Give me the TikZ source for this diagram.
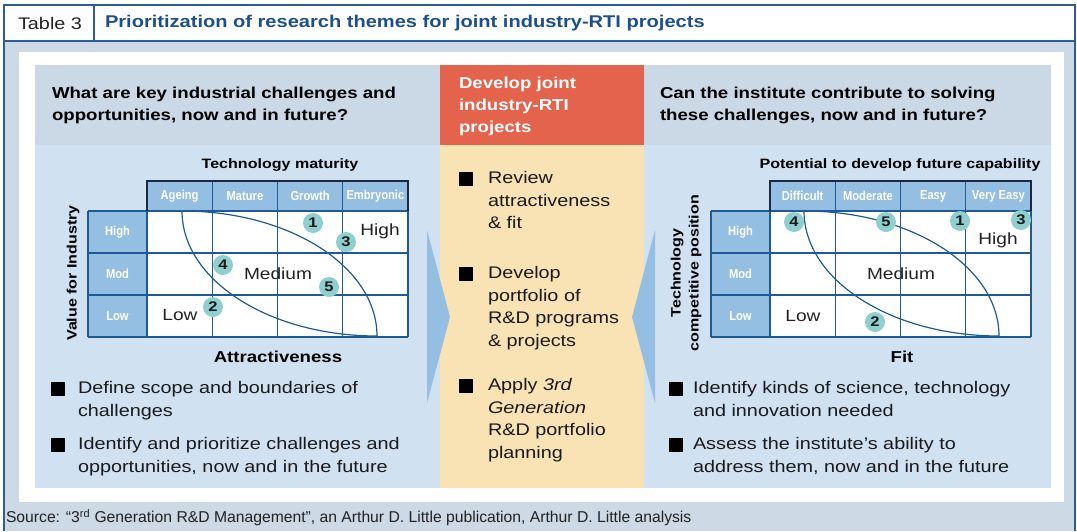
\documentclass[tikz,border=0pt]{standalone}
\usepackage{fontspec}
\setmainfont{Liberation Sans}[FakeStretch=1.18]
\newfontfamily\condfont{Liberation Sans}[FakeStretch=0.86]
\newfontfamily\srcfont{Liberation Sans}

\definecolor{frameblue}{HTML}{2B5E98}
\definecolor{titleblue}{HTML}{1D4F8C}
\definecolor{outerbg}{HTML}{CDD9E5}
\definecolor{headbg}{HTML}{CBD8E5}
\definecolor{bodybg}{HTML}{D0E1F1}
\definecolor{cellblue}{HTML}{94BEE2}
\definecolor{gridline}{HTML}{1F5A98}
\definecolor{hdrline}{HTML}{1B2840}
\definecolor{redhead}{HTML}{E4634D}
\definecolor{cream}{HTML}{F9E3B5}
\definecolor{themeteal}{HTML}{8FCFCD}
\definecolor{arrowblue}{HTML}{94BEE2}
\definecolor{textblack}{HTML}{1A1A1A}
\definecolor{zonetext}{HTML}{222222}

\tikzset{
  every node/.style={inner sep=0pt, outer sep=0pt},
  question/.style={anchor=north west, align=left, text=black,
    font=\fontsize{15.8}{22}\selectfont\bfseries},
  bodytext/.style={anchor=north west, align=left, text=textblack,
    font=\fontsize{16.8}{22.7}\selectfont},
  bulletsq/.style={fill=black, minimum size=13.5pt, inner sep=0pt},
  axistitle/.style={font=\fontsize{13.6}{18}\selectfont\bfseries, text=black},
  axisname/.style={font=\fontsize{15.8}{18}\selectfont\bfseries, text=black},
  colhead/.style={font=\condfont\fontsize{13}{14}\selectfont\bfseries, text=white},
  zone/.style={font=\fontsize{16.2}{18}\selectfont, text=zonetext},
  theme/.style={circle, fill=themeteal, minimum size=20pt, inner sep=0pt,
    font=\fontsize{14}{14}\selectfont\bfseries, text=textblack},
  gline/.style={draw=gridline, line width=1.3pt},
  hline/.style={draw=hdrline, line width=1.3pt},
  curve/.style={draw=gridline, line width=1.2pt},
  frameline/.style={draw=frameblue, line width=1.6pt},
}

\begin{document}
\begin{tikzpicture}[x=1pt,y=-1pt]
\useasboundingbox (0,0) rectangle (1077,531);
\fill[white] (0,0) rectangle (1077,531);

% outer frame, title bar and source band
\fill[outerbg] (4,41) rectangle (1075,531);
\draw[frameline] (4,531) -- (4,5) -- (1075,5) -- (1075,531);
\draw[frameline] (4,41) -- (1075,41);
\draw[frameline] (94,5) -- (94,41);
\node[font=\fontsize{16.8}{18}\selectfont, text=zonetext] (tabno) at (50,23) {Table 3};
\node[anchor=west, font=\fontsize{17}{18}\selectfont\bfseries, text=titleblue] (title) at (105,23)
  {Prioritization of research themes for joint industry-RTI projects};
\node[anchor=west, font=\srcfont\fontsize{15.7}{18}\selectfont, text=zonetext] (source) at (6,518)
  {Source: “3\textsuperscript{rd} Generation R\&D Management”, an Arthur D. Little publication, Arthur D. Little analysis};

% white sheet and the three columns
\fill[white] (19,52) rectangle (1064,502);
\fill[headbg] (35,65) rectangle (440,145);
\fill[bodybg] (35,145) rectangle (440,488);
\fill[headbg] (644,65) rectangle (1051,145);
\fill[bodybg] (644,145) rectangle (1051,488);
\fill[redhead] (440,65) rectangle (644,145);
\fill[cream] (440,145) rectangle (644,488);

% chevrons pointing into the centre column
\fill[arrowblue] (427,230) -- (450,317) -- (427,403) -- cycle;
\fill[arrowblue] (655,230) -- (632,317) -- (655,403) -- cycle;

% column headers
\node[question] (qleft) at (52,86.8)
  {What are key industrial challenges and\\opportunities, now and in future?};
\node[question] (qright) at (660,86.8)
  {Can the institute contribute to solving\\these challenges, now and in future?};
\node[question, text=white] (qmid) at (459,76.8)
  {Develop joint\\industry-RTI\\projects};

% centre bullets
\node[bulletsq] (mb1) at (466,179) {};
\node[bodytext] (mt1) at (488,171.4) {Review\\attractiveness\\\& fit};
\node[bulletsq] (mb2) at (466,274) {};
\node[bodytext] (mt2) at (488,266.4) {Develop\\portfolio of\\R\&D programs\\\& projects};
\node[bulletsq] (mb3) at (466,386) {};
\node[bodytext] (mt3) at (488,378.4) {Apply \textit{3rd}\\\textit{Generation}\\R\&D portfolio\\planning};

% left bullets
\node[bulletsq] (lb1) at (58,389) {};
\node[bodytext] (lt1) at (78,381.4) {Define scope and boundaries of\\challenges};
\node[bulletsq] (lb2) at (58,445) {};
\node[bodytext] (lt2) at (78,437.4) {Identify and prioritize challenges and\\opportunities, now and in the future};

% right bullets
\node[bulletsq] (rb1) at (676,389) {};
\node[bodytext] (rt1) at (693,381.4) {Identify kinds of science, technology\\and innovation needed};
\node[bulletsq] (rb2) at (676,445) {};
\node[bodytext] (rt2) at (693,437.4) {Assess the institute’s ability to\\address them, now and in the future};

% ---------- attractiveness matrix ----------
\node[axistitle] (lxt) at (280,165) {Technology maturity};
\node[axisname] (lxn) at (278,357) {Attractiveness};
\node[axistitle, rotate=90] (lyn) at (73,273) {Value for Industry};
\begin{scope}[shift={(147,181)}]
  \fill[cellblue] (0,0) rectangle (261,30);
  \fill[cellblue] (-59,30) rectangle (0,156);
  \fill[white] (0,30) rectangle (261,156);
  \foreach \yy in {30,72,114,156} \draw[gline] (-59,\yy) -- (261,\yy);
  \draw[gline] (-59,30) -- (-59,156);
  \foreach \xx in {65.25,130.5,195.75} \draw[gline] (\xx,0) -- (\xx,156);
  \draw[gline] (0,30) -- (0,156);
  \draw[gline] (261,30) -- (261,156);
  \draw[hline] (0,30) -- (0,0) -- (261,0) -- (261,30);
  \draw[curve] (35,30) .. controls (35,99) and (122,155) .. (230,155);
  \draw[curve] (35,30) .. controls (143,30) and (230,86) .. (230,155);
  \node[colhead] (lc1) at (32.6,15) {Ageing};
  \node[colhead] (lc2) at (97.9,15) {Mature};
  \node[colhead] (lc3) at (163.1,15) {Growth};
  \node[colhead] (lc4) at (228.4,15) {Embryonic};
  \node[colhead] (lr1) at (-29.5,51) {High};
  \node[colhead] (lr2) at (-29.5,93) {Mod};
  \node[colhead] (lr3) at (-29.5,135) {Low};
  \node[zone] (lzh) at (233,50) {High};
  \node[zone] (lzm) at (131,93) {Medium};
  \node[zone] (lzl) at (33,134) {Low};
  \node[theme] (lt1c) at (166,42) {1};
  \node[theme] (lt3c) at (199,61) {3};
  \node[theme] (lt4c) at (76,84) {4};
  \node[theme] (lt5c) at (182,106) {5};
  \node[theme] (lt2c) at (66,126) {2};
\end{scope}

% ---------- fit matrix ----------
\node[axistitle] (rxt) at (900,165) {Potential to develop future capability};
\node[axisname] (rxn) at (902,357) {Fit};
\node[axistitle, rotate=90, align=center, font=\fontsize{13.6}{18}\selectfont\bfseries] (ryn) at (686,273)
  {Technology\\competitive position};
\begin{scope}[shift={(770,181)}]
  \fill[cellblue] (0,0) rectangle (261,30);
  \fill[cellblue] (-59,30) rectangle (0,156);
  \fill[white] (0,30) rectangle (261,156);
  \foreach \yy in {30,72,114,156} \draw[gline] (-59,\yy) -- (261,\yy);
  \draw[gline] (-59,30) -- (-59,156);
  \foreach \xx in {65.25,130.5,195.75} \draw[gline] (\xx,0) -- (\xx,156);
  \draw[gline] (0,30) -- (0,156);
  \draw[gline] (261,30) -- (261,156);
  \draw[hline] (0,30) -- (0,0) -- (261,0) -- (261,30);
  \draw[curve] (34,30) .. controls (34,99) and (121,155) .. (229,155);
  \draw[curve] (34,30) .. controls (142,30) and (229,86) .. (229,155);
  \node[colhead] (rc1) at (32.6,15) {Difficult};
  \node[colhead] (rc2) at (97.9,15) {Moderate};
  \node[colhead] (rc3) at (163.1,15) {Easy};
  \node[colhead] (rc4) at (228.4,15) {Very Easy};
  \node[colhead] (rr1) at (-29.5,51) {High};
  \node[colhead] (rr2) at (-29.5,93) {Mod};
  \node[colhead] (rr3) at (-29.5,135) {Low};
  \node[zone] (rzh) at (228,59) {High};
  \node[zone] (rzm) at (131,93) {Medium};
  \node[zone] (rzl) at (33,135) {Low};
  \node[theme] (rt4c) at (24,41) {4};
  \node[theme] (rt5c) at (116,41) {5};
  \node[theme] (rt1c) at (190,40) {1};
  \node[theme] (rt3c) at (251,39) {3};
  \node[theme] (rt2c) at (105,141) {2};
\end{scope}
\end{tikzpicture}
\end{document}
